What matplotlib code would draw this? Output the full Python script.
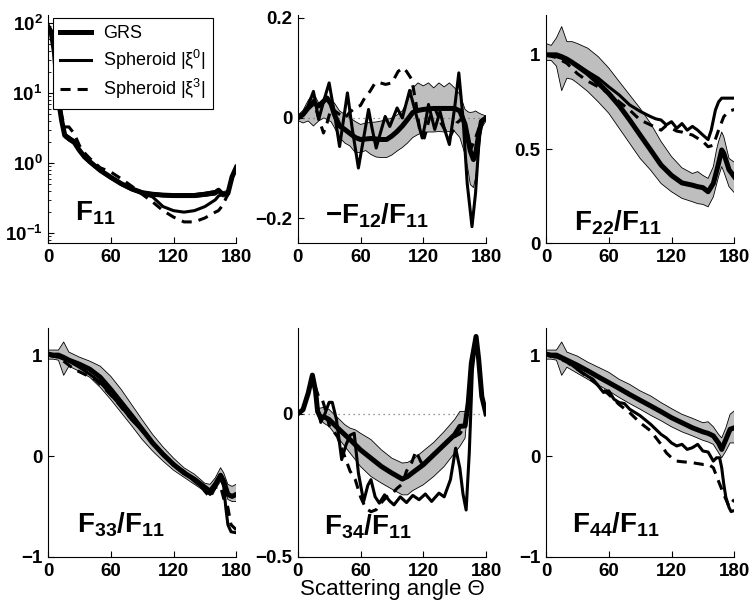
import numpy as np
import matplotlib
matplotlib.use('Agg')
import matplotlib.pyplot as plt
from matplotlib.ticker import LogLocator, NullFormatter

plt.rcParams['font.family'] = ['Liberation Sans', 'DejaVu Sans']
plt.rcParams['mathtext.fontset'] = 'custom'
plt.rcParams['mathtext.rm'] = 'Liberation Sans'
plt.rcParams['mathtext.bf'] = 'Liberation Sans:bold'
plt.rcParams['mathtext.it'] = 'Liberation Sans:italic'

# ---- F11 ----
th_f11 = [0, 3, 6, 10, 13, 16, 20, 25, 30, 35, 40, 50, 60, 70, 80, 90, 100, 110, 120, 130, 140, 150, 160, 163, 167, 172, 176, 180]
grs_f11 = [90, 75, 40, 8.1, 4.1, 2.5, 2.25, 2.0, 1.53, 1.23, 1.05, 0.79, 0.63, 0.51, 0.43, 0.38, 0.36, 0.35, 0.345, 0.345, 0.345, 0.36, 0.38, 0.41, 0.36, 0.37, 0.64, 0.87]
hi_f11 = [95, 80, 44, 8.8, 4.5, 2.7, 2.45, 2.15, 1.65, 1.32, 1.12, 0.84, 0.67, 0.54, 0.455, 0.40, 0.38, 0.37, 0.365, 0.365, 0.37, 0.385, 0.41, 0.44, 0.39, 0.41, 0.72, 0.96]
lo_f11 = [85, 70, 36, 7.4, 3.7, 2.3, 2.05, 1.85, 1.42, 1.14, 0.98, 0.74, 0.59, 0.48, 0.405, 0.36, 0.34, 0.33, 0.325, 0.325, 0.325, 0.335, 0.35, 0.38, 0.33, 0.33, 0.56, 0.78]
s0_f11 = [90, 75, 42, 8.5, 4.3, 2.6, 2.35, 2.1, 1.55, 1.22, 1.04, 0.78, 0.62, 0.50, 0.42, 0.37, 0.33, 0.24, 0.21, 0.20, 0.21, 0.24, 0.30, 0.34, 0.36, 0.37, 0.64, 0.87]
s3_f11 = [90, 75, 45, 9.0, 4.8, 3.3, 3.3, 2.65, 1.8, 1.4, 1.17, 0.86, 0.75, 0.60, 0.47, 0.36, 0.28, 0.21, 0.17, 0.145, 0.145, 0.165, 0.20, 0.21, 0.25, 0.36, 0.64, 0.87]

# ---- -F12/F11 ----
th_f12 = [0, 5, 10, 15, 20, 25, 28, 32, 35, 40, 45, 50, 55, 60, 65, 70, 75, 80, 85, 90, 95, 100, 105, 110, 115, 120, 125, 130, 135, 140, 145, 150, 155, 160, 163, 165, 168, 170, 173, 176, 180]
grs_f12 = [0, 0.007, 0.02, 0.03, 0.024, 0.034, 0.04, 0.027, 0.007, -0.016, -0.023, -0.031, -0.039, -0.043, -0.042, -0.041, -0.042, -0.043, -0.043, -0.036, -0.027, -0.016, -0.003, 0.011, 0.015, 0.017, 0.018, 0.019, 0.019, 0.019, 0.019, 0.019, 0.014, -0.013, -0.045, -0.066, -0.083, -0.073, -0.033, -0.006, 0]
hi_f12 = [0.005, 0.015, 0.035, 0.05, 0.03, 0.035, 0.04, 0.035, 0.03, 0.014, 0.007, 0.0, -0.007, -0.013, -0.01, -0.009, -0.008, -0.006, -0.003, 0.0, 0.006, 0.014, 0.034, 0.06, 0.07, 0.064, 0.07, 0.06, 0.07, 0.062, 0.07, 0.06, 0.047, 0.017, 0.012, 0.011, 0.012, 0.014, 0.01, 0.007, 0.004]
lo_f12 = [-0.005, -0.01, -0.006, -0.016, -0.006, 0.0, -0.003, -0.008, -0.019, -0.039, -0.05, -0.056, -0.069, -0.069, -0.065, -0.073, -0.078, -0.079, -0.079, -0.074, -0.066, -0.059, -0.05, -0.039, -0.033, -0.029, -0.028, -0.028, -0.027, -0.028, -0.027, -0.027, -0.039, -0.073, -0.106, -0.133, -0.139, -0.12, -0.073, -0.019, -0.006]
th0_f12 = [0, 5, 10, 15, 20, 25, 30, 35, 40, 44, 47.5, 52, 58, 63, 67.7, 71, 75, 79, 83.6, 88, 95, 100, 107, 114, 119, 122, 125, 131, 136, 140, 145, 150, 154, 158, 162, 166.6, 170, 174.6, 180]
s0_f12 = [0, 0.008, 0.025, 0.053, -0.003, 0.035, 0.07, 0.01, -0.057, 0.0, 0.05, -0.02, -0.1, -0.04, 0.017, -0.02, -0.06, -0.03, 0.003, -0.017, 0.02, 0.0, 0.055, 0.0, -0.04, -0.01, 0.027, -0.023, 0.013, -0.02, -0.053, 0.02, 0.09, 0.0, -0.13, -0.217, -0.15, -0.007, 0]
th3_f12 = [0, 5, 10, 15, 20, 24.6, 28, 32, 38, 45, 50, 55, 60, 64, 69, 74, 79, 84, 90, 96, 101, 104, 109, 113, 117, 121, 126, 131, 137, 145, 152, 158, 162, 166, 170, 175, 180]
s3_f12 = [0, 0.005, 0.02, 0.035, 0.0, -0.03, -0.01, 0.02, 0.01, 0.0, 0.012, 0.02, 0.025, 0.04, 0.053, 0.07, 0.07, 0.067, 0.07, 0.093, 0.1, 0.093, 0.077, 0.03, -0.03, -0.04, 0.0, 0.02, -0.01, -0.04, -0.01, 0.0, -0.03, -0.06, -0.04, -0.01, 0]

# ---- F22/F11 ----
th_f22 = [0, 5, 10, 15, 20, 25, 30, 40, 50, 60, 70, 80, 90, 100, 110, 120, 130, 140, 145, 150, 155, 160, 163, 165, 168, 170, 175, 180]
grs_f22 = [1.0, 1.0, 1.0, 0.99, 0.977, 0.96, 0.94, 0.90, 0.85, 0.795, 0.73, 0.654, 0.574, 0.495, 0.415, 0.36, 0.32, 0.308, 0.30, 0.295, 0.273, 0.317, 0.38, 0.424, 0.495, 0.477, 0.39, 0.353]
hi_f22 = [1.06, 1.05, 1.09, 1.15, 1.07, 1.07, 1.06, 1.035, 0.99, 0.93, 0.858, 0.787, 0.716, 0.636, 0.54, 0.46, 0.40, 0.37, 0.38, 0.36, 0.344, 0.406, 0.495, 0.54, 0.59, 0.566, 0.45, 0.43]
lo_f22 = [0.97, 0.97, 0.94, 0.81, 0.876, 0.87, 0.85, 0.805, 0.75, 0.69, 0.61, 0.53, 0.45, 0.388, 0.317, 0.273, 0.238, 0.22, 0.21, 0.206, 0.193, 0.246, 0.31, 0.353, 0.406, 0.38, 0.30, 0.268]
th0_f22 = [0, 10, 20, 30, 40, 50, 60, 70, 80, 90, 100, 105, 110, 115, 120, 125, 130, 135, 140, 145, 150, 155, 158, 162, 165, 168, 172, 180]
s0_f22 = [1.0, 0.99, 0.973, 0.947, 0.91, 0.876, 0.83, 0.787, 0.734, 0.70, 0.672, 0.66, 0.654, 0.628, 0.645, 0.61, 0.635, 0.60, 0.62, 0.60, 0.574, 0.55, 0.60, 0.707, 0.75, 0.77, 0.77, 0.77]
th3_f22 = [0, 10, 20, 30, 40, 50, 60, 70, 80, 90, 100, 110, 115, 120, 125, 130, 140, 150, 155, 160, 165, 170, 175, 180]
s3_f22 = [1.0, 0.985, 0.955, 0.90, 0.86, 0.83, 0.796, 0.75, 0.707, 0.654, 0.628, 0.60, 0.625, 0.61, 0.595, 0.59, 0.574, 0.54, 0.512, 0.52, 0.60, 0.672, 0.70, 0.71]

# ---- F33/F11 ----
th_f33 = [0, 5, 10, 15, 20, 30, 40, 50, 60, 70, 80, 90, 100, 110, 120, 130, 140, 150, 155, 160, 165, 168, 172, 176, 180]
grs_f33 = [1.01, 1.0, 1.0, 0.977, 0.95, 0.91, 0.86, 0.78, 0.66, 0.53, 0.40, 0.265, 0.13, 0.017, -0.083, -0.166, -0.23, -0.31, -0.35, -0.28, -0.19, -0.25, -0.38, -0.40, -0.38]
hi_f33 = [1.05, 1.05, 1.05, 1.13, 1.03, 0.98, 0.94, 0.89, 0.79, 0.66, 0.51, 0.36, 0.215, 0.09, -0.02, -0.116, -0.18, -0.27, -0.28, -0.215, -0.116, -0.166, -0.28, -0.30, -0.28]
lo_f33 = [0.96, 0.96, 0.95, 0.80, 0.89, 0.84, 0.78, 0.68, 0.56, 0.43, 0.30, 0.165, 0.05, -0.05, -0.14, -0.21, -0.28, -0.35, -0.38, -0.33, -0.25, -0.31, -0.43, -0.45, -0.45]
th0_f33 = [0, 10, 20, 30, 40, 50, 60, 70, 80, 90, 100, 110, 120, 130, 140, 150, 155, 160, 165, 168, 170, 172, 175, 180]
s0_f33 = [1.0, 0.98, 0.94, 0.88, 0.81, 0.73, 0.61, 0.49, 0.36, 0.25, 0.13, 0.02, -0.09, -0.15, -0.25, -0.33, -0.38, -0.30, -0.20, -0.30, -0.51, -0.68, -0.75, -0.76]
th3_f33 = [0, 10, 15, 25, 35, 45, 55, 65, 75, 85, 95, 105, 115, 125, 135, 145, 150, 155, 160, 165, 168, 172, 175, 180]
s3_f33 = [1.0, 0.98, 0.94, 0.86, 0.81, 0.76, 0.66, 0.55, 0.42, 0.31, 0.19, 0.08, -0.03, -0.12, -0.19, -0.28, -0.35, -0.41, -0.31, -0.30, -0.42, -0.51, -0.68, -0.73]

# ---- F34/F11 ----
th_f34 = [0, 5, 10, 14, 17, 19, 22, 25, 30, 35, 40, 45, 50, 55, 60, 70, 80, 90, 100, 105, 110, 120, 130, 140, 150, 155, 160, 163, 166, 170.5, 173, 176, 180]
grs_f34 = [0, 0.014, 0.072, 0.135, 0.08, 0.008, -0.015, -0.01, -0.02, -0.038, -0.056, -0.073, -0.09, -0.108, -0.126, -0.155, -0.184, -0.207, -0.228, -0.219, -0.205, -0.178, -0.143, -0.108, -0.073, -0.044, -0.042, 0.037, 0.177, 0.27, 0.19, 0.06, 0]
hi_f34 = [0, 0.014, 0.072, 0.135, 0.085, 0.02, 0.02, 0.023, 0.015, -0.003, -0.02, -0.038, -0.05, -0.056, -0.068, -0.09, -0.126, -0.155, -0.172, -0.17, -0.16, -0.13, -0.1, -0.062, -0.02, 0.008, 0.008, 0.037, 0.177, 0.27, 0.19, 0.06, 0]
lo_f34 = [0, 0.014, 0.072, 0.135, 0.075, -0.005, -0.02, -0.033, -0.044, -0.068, -0.09, -0.114, -0.137, -0.16, -0.184, -0.219, -0.242, -0.263, -0.283, -0.283, -0.268, -0.248, -0.219, -0.184, -0.137, -0.114, -0.085, 0.037, 0.177, 0.27, 0.19, 0.06, 0]
th0_f34 = [0, 5, 10, 14, 17, 19, 22, 26, 30, 33, 37, 42, 46, 50, 54, 58, 63, 67, 70, 74, 78, 83, 88, 92, 98, 104, 110, 116, 122, 128, 135, 140, 146, 151, 155, 158, 161, 164, 167, 170.5, 173, 176, 180]
s0_f34 = [0, 0.014, 0.072, 0.135, 0.08, 0.02, -0.03, 0.0, 0.04, 0.04, -0.02, -0.16, -0.11, -0.075, -0.068, -0.207, -0.306, -0.25, -0.23, -0.29, -0.312, -0.283, -0.305, -0.318, -0.29, -0.31, -0.285, -0.3, -0.28, -0.306, -0.277, -0.29, -0.23, -0.12, -0.19, -0.28, -0.336, -0.137, 0.154, 0.265, 0.19, 0.06, 0]
th3_f34 = [0, 5, 10, 14, 17, 20, 23, 26, 30, 33, 38, 40, 45, 50, 55, 60, 65, 70, 75, 80, 85, 90, 95, 100, 104, 109, 113, 118, 122, 130, 140, 145, 150, 155, 160, 163, 166, 170.5, 173, 176, 180]
s3_f34 = [0, 0.014, 0.07, 0.13, 0.09, 0.06, 0.055, 0.02, -0.04, -0.055, -0.08, -0.1, -0.15, -0.2, -0.23, -0.29, -0.33, -0.342, -0.335, -0.31, -0.29, -0.28, -0.26, -0.245, -0.2, -0.17, -0.13, -0.17, -0.17, -0.14, -0.11, -0.09, -0.08, -0.07, -0.04, 0.037, 0.177, 0.27, 0.19, 0.06, 0]

# ---- F44/F11 ----
th_f44 = [0, 5, 10, 15, 20, 30, 40, 50, 60, 70, 80, 90, 100, 110, 120, 130, 140, 150, 155, 160, 165, 168, 172, 176, 180]
grs_f44 = [1.01, 1.0, 1.0, 0.975, 0.95, 0.90, 0.844, 0.785, 0.728, 0.67, 0.61, 0.553, 0.497, 0.44, 0.38, 0.33, 0.28, 0.24, 0.225, 0.20, 0.13, 0.066, 0.165, 0.265, 0.28]
hi_f44 = [1.05, 1.05, 1.05, 1.13, 1.03, 0.99, 0.93, 0.88, 0.83, 0.76, 0.71, 0.646, 0.596, 0.53, 0.47, 0.414, 0.374, 0.33, 0.34, 0.29, 0.215, 0.18, 0.28, 0.414, 0.447]
lo_f44 = [0.96, 0.96, 0.95, 0.80, 0.88, 0.82, 0.76, 0.705, 0.646, 0.58, 0.52, 0.464, 0.404, 0.35, 0.29, 0.24, 0.20, 0.156, 0.14, 0.116, 0.033, -0.017, 0.05, 0.13, 0.13]
th0_f44 = [0, 10, 20, 30, 40, 45, 50, 55, 60, 65, 70, 75, 80, 90, 100, 105, 110, 115, 120, 125, 130, 135, 140, 145, 150, 155, 160, 163, 166, 168, 170, 172, 175, 177, 180]
s0_f44 = [1.0, 0.98, 0.94, 0.86, 0.79, 0.76, 0.695, 0.63, 0.646, 0.563, 0.53, 0.52, 0.464, 0.40, 0.315, 0.265, 0.215, 0.18, 0.13, 0.10, 0.116, 0.066, 0.083, 0.116, 0.05, 0.04, -0.05, -0.017, -0.017, -0.116, -0.28, -0.41, -0.51, -0.55, -0.54]
th3_f44 = [0, 10, 20, 30, 40, 50, 60, 70, 80, 90, 100, 110, 115, 120, 125, 130, 140, 150, 155, 160, 165, 170, 175, 180]
s3_f44 = [1.0, 0.98, 0.93, 0.86, 0.78, 0.70, 0.61, 0.51, 0.43, 0.33, 0.25, 0.116, 0.033, -0.017, -0.05, -0.056, -0.066, -0.083, -0.08, -0.116, -0.25, -0.38, -0.50, -0.43]

# ticks / labels
xticks = [0, 60, 120, 180]
panel_titles = [r'$\mathbf{F_{11}}$', r'$\mathbf{-F_{12}/F_{11}}$', r'$\mathbf{F_{22}/F_{11}}$',
                r'$\mathbf{F_{33}/F_{11}}$', r'$\mathbf{F_{34}/F_{11}}$', r'$\mathbf{F_{44}/F_{11}}$']
title_pos = [(0.144, 0.10), (0.144, 0.088), (0.149, 0.057), (0.154, 0.105), (0.138, 0.096), (0.138, 0.105)]
yticks_list = [None, [-0.2, 0, 0.2], [0, 0.5, 1], [-1, 0, 1], [-0.5, 0], [-1, 0, 1]]
yticklabels_list = [None, ['\u22120.2', '0', '0.2'], ['0', '0.5', '1'], ['\u22121', '0', '1'],
                    ['\u22120.5', '0'], ['\u22121', '0', '1']]
ylims = [(0.072, 130), (-0.25, 0.205), (0, 1.21), (-1, 1.27), (-0.5, 0.3), (-1, 1.27)]

band_color = '#bebebe'
tick_fs = 13.5

fig = plt.figure(figsize=(7.5, 6.11), dpi=100)
lefts = [0.064, 0.397, 0.728]
rows = [(0.602, 0.373), (0.0884, 0.375)]
axes = []
for r in range(2):
    for c in range(3):
        axes.append(fig.add_axes([lefts[c], rows[r][0], 0.251, rows[r][1]]))

data = [
    (th_f11, grs_f11, lo_f11, hi_f11, th_f11, s0_f11, th_f11, s3_f11),
    (th_f12, grs_f12, lo_f12, hi_f12, th0_f12, s0_f12, th3_f12, s3_f12),
    (th_f22, grs_f22, lo_f22, hi_f22, th0_f22, s0_f22, th3_f22, s3_f22),
    (th_f33, grs_f33, lo_f33, hi_f33, th0_f33, s0_f33, th3_f33, s3_f33),
    (th_f34, grs_f34, lo_f34, hi_f34, th0_f34, s0_f34, th3_f34, s3_f34),
    (th_f44, grs_f44, lo_f44, hi_f44, th0_f44, s0_f44, th3_f44, s3_f44),
]

dash = (0, (3.3, 2.3))
for i, ax in enumerate(axes):
    th, grs, lo, hi, th0, s0, th3, s3 = data[i]
    if i == 0:
        ax.set_yscale('log')
    ax.fill_between(th, lo, hi, facecolor=band_color, edgecolor='none', zorder=1)
    ax.plot(th, lo, color='k', lw=0.6, zorder=2)
    ax.plot(th, hi, color='k', lw=0.6, zorder=2)
    if i in (1, 4):
        ax.plot([0, 180], [0, 0], color='0.45', lw=0.9, ls=(0, (1, 3)), zorder=2.5)
    ax.plot(th, grs, color='k', lw=3.6, zorder=3, label='GRS')
    ax.plot(th0, s0, color='k', lw=2.2, zorder=4, label='Spheroid |\u03be$^0$|')
    ax.plot(th3, s3, color='k', lw=2.2, ls=dash, zorder=4, label='Spheroid |\u03be$^3$|')

    ax.set_xlim(0, 180)
    ax.set_ylim(*ylims[i])
    ax.set_xticks(xticks)
    ax.set_xticklabels([str(t) for t in xticks])
    if i == 0:
        ax.set_yticks([0.1, 1, 10, 100])
        ax.set_yticklabels([r'$\mathbf{10^{-1}}$', r'$\mathbf{10^{0}}$', r'$\mathbf{10^{1}}$', r'$\mathbf{10^{2}}$'])
        ax.yaxis.set_minor_locator(LogLocator(base=10, subs=np.arange(2, 10)))
        ax.yaxis.set_minor_formatter(NullFormatter())
    else:
        ax.set_yticks(yticks_list[i])
        ax.set_yticklabels(yticklabels_list[i])
    for s in ['top', 'right']:
        ax.spines[s].set_visible(False)
    for s in ['left', 'bottom']:
        ax.spines[s].set_linewidth(0.8)
    ax.tick_params(which='major', direction='in', length=4, width=0.8, labelsize=tick_fs, pad=4)
    ax.tick_params(which='minor', direction='in', length=2, width=0.6)
    for lab in ax.get_xticklabels() + ax.get_yticklabels():
        lab.set_fontweight('bold')
    ax.text(title_pos[i][0], title_pos[i][1], panel_titles[i], transform=ax.transAxes,
            fontsize=20, ha='left', va='baseline', zorder=6)

leg = axes[0].legend(loc='upper left', bbox_to_anchor=(0.027, 0.987), borderaxespad=0,
                     fancybox=False, edgecolor='k', framealpha=1, fontsize=13,
                     handlelength=1.7, labelspacing=0.3, borderpad=0.4, handletextpad=0.65)
leg.get_frame().set_linewidth(0.8)
leg.set_zorder(10)

fig.text(0.523, 1 - 595 / 611, 'Scattering angle \u0398', ha='center', va='baseline', fontsize=16)

fig.savefig('out.png', dpi=100)
